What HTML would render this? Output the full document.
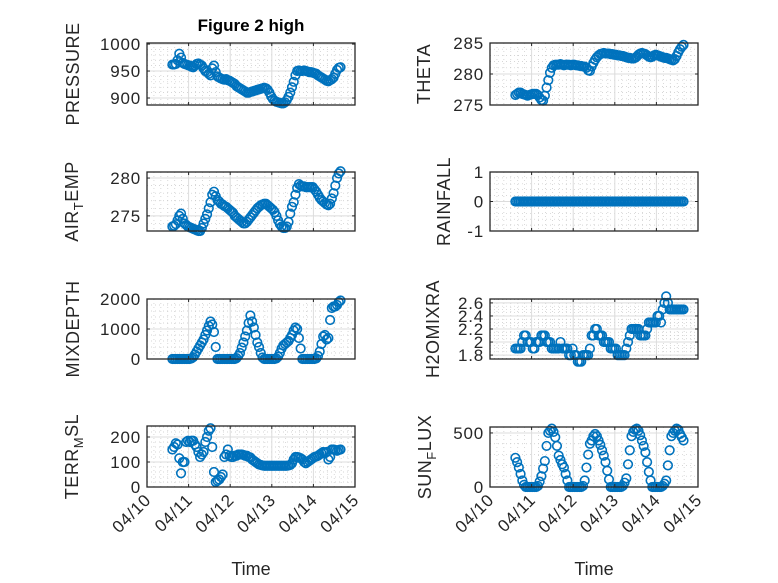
<!DOCTYPE html>
<html><head><meta charset="utf-8"><style>
html,body{margin:0;padding:0;background:#fff;}
svg{display:block;font-family:"Liberation Sans",sans-serif;}
</style></head><body>
<svg id="fig" width="778" height="583" viewBox="0 0 778 583" xmlns="http://www.w3.org/2000/svg">
<rect width="778" height="583" fill="#fff"/>
<text x="251" y="31" text-anchor="middle" font-size="17" font-weight="bold" fill="#000">Figure 2 high</text>
<g id="plots"></g>
<text x="251" y="575" text-anchor="middle" font-size="18" fill="#262626">Time</text>
<text x="594" y="575" text-anchor="middle" font-size="18" fill="#262626">Time</text>
</svg>
<script>
// x categories: hourly samples, start day offset from 04/10 00:00
const startDay = 0.61;
const sampleCount = 98;
const xTickLabels = ["04/10","04/11","04/12","04/13","04/14","04/15"];

const pressure = [962,962,963,970,982,975,965,963,962,961,
960,958,957,960,963,964,962,960,955,950,
948,945,942,955,960,948,940,938,936,935,
934,935,933,932,930,928,926,922,920,918,
916,914,912,910,910,911,912,913,914,915,
916,917,918,919,918,915,910,903,898,895,
893,892,891,890,890,892,896,902,910,920,
930,942,950,951,950,950,951,950,949,948,
948,947,946,945,942,940,938,936,934,932,
931,933,935,938,945,952,956,957];
const airTemp = [273.6,273.7,273.9,274.4,275.0,275.3,274.6,274.0,273.8,273.6,
273.5,273.4,273.3,273.2,273.1,273.0,273.0,273.4,274.0,274.6,
275.2,276.0,276.8,277.8,278.2,277.6,277.1,276.9,276.6,276.5,
276.3,276.2,276.0,275.8,275.6,275.4,275.0,274.8,274.6,274.4,
274.2,274.0,274.0,274.2,274.5,274.8,275.1,275.4,275.7,276.0,
276.2,276.4,276.5,276.6,276.6,276.4,276.2,276.0,275.8,275.5,
275.0,274.4,273.9,273.6,273.4,273.4,273.6,274.2,275.3,276.2,
276.8,277.8,278.7,279.2,279.0,278.9,278.9,278.8,278.8,278.8,
278.8,278.8,278.5,278.2,277.8,277.4,277.1,276.9,276.7,276.5,
276.4,276.6,277.3,278.0,279.0,280.0,280.6,280.9];
const mixDepth = [0,0,0,0,0,0,0,0,0,0,
0,20,60,150,250,350,450,550,650,800,
950,1100,1250,1150,900,400,0,0,0,0,
0,0,0,0,0,0,0,30,100,200,
380,550,750,950,1200,1450,1250,1050,800,550,
400,200,50,0,0,0,0,0,0,0,
20,80,200,350,450,500,550,600,700,800,
950,1050,1000,700,350,0,0,0,0,0,
0,0,0,20,100,250,500,750,800,650,
700,1300,1700,1750,1750,1800,1900,1950];
const terrMsl = [150,160,175,170,115,55,100,100,180,185,
180,185,185,170,160,140,120,130,140,180,
200,225,235,160,60,20,25,30,40,50,
120,130,150,125,120,120,125,125,130,130,
130,128,125,125,120,118,110,105,100,95,
90,88,86,85,85,85,85,85,85,85,
85,85,85,85,85,85,85,86,88,95,
110,120,120,118,115,110,100,95,100,105,
110,115,120,122,125,130,135,140,135,140,
110,120,150,150,148,145,148,150];
const theta = [276.6,276.8,277.0,277.0,276.8,276.7,276.6,276.5,276.6,276.7,
276.8,276.8,276.8,276.6,276.2,275.8,275.7,276.5,277.8,279.0,
280.2,281.0,281.4,281.5,281.5,281.5,281.6,281.5,281.4,281.5,
281.5,281.5,281.4,281.5,281.5,281.4,281.4,281.3,281.3,281.2,
281.2,281.0,280.6,280.5,281.2,281.8,282.3,282.7,283.0,283.2,
283.3,283.4,283.3,283.3,283.3,283.2,283.2,283.1,283.1,283.0,
283.0,282.9,282.9,282.8,282.7,282.6,282.6,282.5,282.5,282.6,
282.8,283.1,283.3,283.4,283.3,283.2,283.0,282.8,282.7,282.8,
283.0,283.1,283.0,282.9,282.8,282.7,282.6,282.6,282.5,282.4,
282.3,282.2,282.4,282.9,283.5,284.0,284.4,284.7];
const rainfall = [0,0,0,0,0,0,0,0,0,0,
0,0,0,0,0,0,0,0,0,0,
0,0,0,0,0,0,0,0,0,0,
0,0,0,0,0,0,0,0,0,0,
0,0,0,0,0,0,0,0,0,0,
0,0,0,0,0,0,0,0,0,0,
0,0,0,0,0,0,0,0,0,0,
0,0,0,0,0,0,0,0,0,0,
0,0,0,0,0,0,0,0,0,0,
0,0,0,0,0,0,0,0];
const h2oMixra = [1.9,1.9,1.9,1.9,2.0,2.1,2.1,2.0,2.0,2.0,
1.9,1.9,2.0,2.0,2.0,2.1,2.1,2.1,2.0,2.0,
2.0,1.9,1.9,1.9,1.9,1.9,2.0,1.9,1.9,1.9,
1.9,1.8,1.8,1.9,1.8,1.8,1.7,1.7,1.7,1.8,
1.8,1.8,1.8,1.9,2.1,2.1,2.2,2.2,2.1,2.1,
2.1,2.0,2.0,2.0,2.0,1.9,1.9,1.9,1.9,1.8,
1.8,1.8,1.8,1.8,1.9,2.0,2.1,2.2,2.2,2.2,
2.2,2.2,2.1,2.1,2.1,2.1,2.2,2.3,2.3,2.3,
2.3,2.3,2.4,2.4,2.3,2.5,2.6,2.7,2.6,2.5,
2.5,2.5,2.5,2.5,2.5,2.5,2.5,2.5];
const sunFlux = [270,230,180,120,60,20,0,0,0,0,
0,0,0,10,50,100,170,240,380,500,
520,540,510,460,380,290,250,210,180,120,
60,0,0,0,0,0,0,0,0,10,
60,180,300,400,430,470,490,470,430,390,
340,290,230,150,70,0,0,0,0,0,
0,0,10,40,80,210,340,470,510,530,
540,520,480,430,380,320,230,140,60,0,
0,0,0,0,0,10,30,60,200,340,
470,500,520,540,530,490,460,430];

const pressureTicks = [900,950,1000];
const airTempTicks = [275,280];
const mixDepthTicks = [0,1000,2000];
const terrTicks = [0,100,200];
const thetaTicks = [275,280,285];
const rainTicks = [-1,0,1];
const h2oTicks = [1.8,2,2.2,2.4,2.6];
const sunTicks = [0,500];

const NS = "http://www.w3.org/2000/svg";
const root = document.getElementById('plots');
function mk(tag, attrs, parent){const e=document.createElementNS(NS,tag);for(const k in attrs)e.setAttribute(k,attrs[k]);(parent||root).appendChild(e);return e;}

const panels = [
 {key:'pressure',data:pressure,ticks:pressureTicks,min:887,max:1002,minor:10,L:147,T:43,B:105,lx:79,label:['PRESSURE']},
 {key:'air-temp',data:airTemp,ticks:airTempTicks,min:273,max:280.8,minor:1,L:147,T:172,B:231,lx:78,label:['AIR','T','EMP']},
 {key:'mixdepth',data:mixDepth,ticks:mixDepthTicks,min:0,max:2000,minor:200,L:147,T:299,B:359,lx:79,label:['MIXDEPTH']},
 {key:'terr-msl',data:terrMsl,ticks:terrTicks,min:0,max:244,minor:20,L:147,T:426,B:487,lx:78,label:['TERR','M','SL'],xt:true},
 {key:'theta',data:theta,ticks:thetaTicks,min:275,max:285,minor:1,L:490,T:43,B:105,lx:430,label:['THETA']},
 {key:'rainfall',data:rainfall,ticks:rainTicks,min:-1,max:1,minor:0.2,L:490,T:172,B:231,lx:450,label:['RAINFALL']},
 {key:'h2omixra',data:h2oMixra,ticks:h2oTicks,min:1.74,max:2.66,minor:0.05,L:490,T:299,B:359,lx:439,label:['H2OMIXRA']},
 {key:'sun-flux',data:sunFlux,ticks:sunTicks,min:0,max:555,minor:100,L:490,T:427,B:487,lx:431,label:['SUN','F','LUX'],xt:true}
];
const W = 208, DAYS = 5;

panels.forEach(p=>{
  const g = mk('g',{});
  
  
  const L=p.L,R=p.L+W,T=p.T,B=p.B;
  const xs = d => L + d/DAYS*W;
  const ys = v => B - (v-p.min)/(p.max-p.min)*(B-T);
  for(let k=1;k<DAYS*6;k++){ if(k%6===0)continue; const x=xs(k/6);
    mk('line',{x1:x,x2:x,y1:T,y2:B,stroke:'#c8c8c8','stroke-width':0.7,'stroke-dasharray':'1 3'},g);}
  const m0=Math.ceil(p.min/p.minor-1e-9);
  for(let k=m0;k*p.minor<=p.max+1e-9;k++){const v=k*p.minor; const y=ys(v);
    mk('line',{x1:L,x2:R,y1:y,y2:y,stroke:'#c8c8c8','stroke-width':0.7,'stroke-dasharray':'1 3'},g);}
  for(let d=1;d<DAYS;d++){const x=xs(d); mk('line',{x1:x,x2:x,y1:T,y2:B,stroke:'#dcdcdc','stroke-width':1},g);}
  p.ticks.forEach(v=>{const y=ys(v); mk('line',{x1:L,x2:R,y1:y,y2:y,stroke:'#dcdcdc','stroke-width':1},g);});
  const s = mk('g',{fill:'none',stroke:'#0072BD','stroke-width':1.6},g);
  
  
  p.data.forEach((v,i)=>{
    const c = mk('circle',{cx:xs(startDay+i/24).toFixed(2),cy:ys(v).toFixed(2),r:4.3},s);
    
    
  });
  const bx = mk('rect',{x:L,y:T,width:W,height:B-T,fill:'none',stroke:'#262626','stroke-width':1.3},g);
  
  
  for(let d=0;d<=DAYS;d++){const x=xs(d);
    mk('line',{x1:x,x2:x,y1:B,y2:B-3,stroke:'#262626','stroke-width':1},g);
    mk('line',{x1:x,x2:x,y1:T,y2:T+3,stroke:'#262626','stroke-width':1},g);}
  p.ticks.forEach(v=>{const y=ys(v);
    mk('line',{x1:L,x2:L+3,y1:y,y2:y,stroke:'#262626','stroke-width':1},g);
    mk('line',{x1:R,x2:R-3,y1:y,y2:y,stroke:'#262626','stroke-width':1},g);
    const t = mk('text',{x:L-6,y:y+6,'text-anchor':'end','font-size':17,'letter-spacing':0.8,fill:'#262626'},g);
    t.textContent = String(v);
    
    
  });
  if(p.xt){
    xTickLabels.forEach((lab,d)=>{const x=xs(d);
      const t = mk('text',{x:x+5,y:B+14,'text-anchor':'end','font-size':17,'letter-spacing':0.8,fill:'#262626',transform:`rotate(-45 ${x+5} ${B+14})`},g);
      t.textContent = lab;
      
      
    });
  }
  const cy=(T+B)/2;
  const yl = mk('text',{x:p.lx,y:cy,'text-anchor':'middle','font-size':18,'letter-spacing':0.5,fill:'#262626',transform:`rotate(-90 ${p.lx} ${cy})`},g);
  
  
  if(p.label.length===1){ yl.textContent=p.label[0]; }
  else {
    const a=mk('tspan',{},yl); a.textContent=p.label[0];
    const b=mk('tspan',{dy:5,'font-size':13},yl); b.textContent=p.label[1];
    const c=mk('tspan',{dy:-5},yl); c.textContent=p.label[2];
  }
});
</script>
</body></html>
